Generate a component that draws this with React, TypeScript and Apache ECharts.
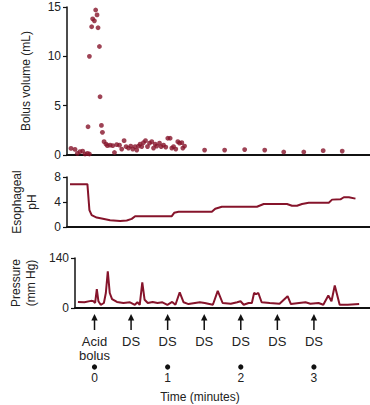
import React, { useEffect, useRef } from "react";
import * as echarts from "echarts";

// time in seconds (0 = acid bolus); minutes labelled below
const bolusTimes = [-12.8, -9.6, -7.7, -5.6, -3.5, -1.6, 0.3, 1.9, 0.8, 1.9, 3.7, 4.5, 5.9, 6.9, 8.0, 8.8, 9.9, 10.4, 11.5, 12.3, 13.6, 15.2, 16.3, 18.4, 20.5, 21.9, 23.7, 25.9, 27.7, 29.6, 31.2, 33.1, 34.9, 36.5, 38.4, 39.7, 41.1, 42.4, 43.7, 45.1, 46.7, 48.3, 49.9, 51.7, 53.1, 54.4, 55.7, 57.9, 59.2, 61.1, 62.9, 64.5, 66.4, 67.7, 69.1, 70.9, 72.5, 73.9, 75.7, 76.5, 77.9, 93.9, 109.9, 125.9, 141.9, 157.1, 173.1, 188.6, 203.8];
const bolusValues = [0.67, 0.57, 0.17, 0.34, 0.4, 0.1, 0.17, 0.1, 2.86, 10.0, 13.0, 13.8, 13.6, 14.7, 14.2, 12.9, 11.0, 5.9, 3.0, 2.3, 1.35, 1.1, 0.95, 1.0, 0.95, 0.25, 1.05, 1.0, 0.6, 1.45, 0.85, 0.7, 0.9, 0.6, 0.85, 0.5, 0.9, 1.1, 0.85, 1.25, 1.45, 0.85, 1.2, 1.35, 0.7, 1.1, 0.9, 1.2, 0.85, 1.0, 0.8, 1.7, 1.7, 0.7, 0.85, 0.6, 1.35, 1.2, 1.25, 0.7, 0.9, 0.5, 0.5, 0.55, 0.5, 0.3, 0.3, 0.44, 0.4];

const phTimes = [-13.6, 0.3, 1.9, 3.7, 7.7, 11.7, 18.4, 26.4, 31.7, 35.7, 38.4, 67.7, 69.6, 73.1, 99.7, 102.4, 107.7, 135.7, 141.1, 159.7, 163.7, 167.7, 171.7, 177.1, 193.1, 195.7, 202.4, 205.1, 209.1, 214.4];
const phValues = [6.86, 6.86, 2.7, 1.89, 1.51, 1.35, 1.08, 0.97, 1.05, 1.3, 1.73, 1.73, 2.27, 2.43, 2.43, 2.92, 3.24, 3.24, 3.68, 3.68, 3.4, 3.4, 3.68, 3.89, 3.89, 4.38, 4.43, 4.76, 4.76, 4.54];

const pressureTimes = [-13.6, -8.3, -2.9, -0.8, 0.5, 1.9, 3.2, 5.1, 7.7, 9.3, 10.9, 12.5, 14.4, 18.4, 23.7, 29.1, 33.1, 35.2, 37.1, 39.2, 41.1, 43.7, 47.7, 51.7, 55.7, 59.8, 63.7, 66.4, 69.9, 73.1, 77.1, 82.4, 86.4, 90.4, 97.1, 101.1, 105.1, 111.8, 117.1, 119.8, 122.4, 126.4, 129.1, 130.9, 132.6, 134.4, 137.1, 143.8, 151.8, 158.4, 161.1, 167.8, 173.1, 177.1, 183.8, 187.7, 191.8, 194.4, 197.1, 201.1, 207.7, 217.1];
const pressureValues = [17, 16, 20, 19, 14, 53, 19, 9, 14, 42, 103, 42, 25, 17, 14, 16, 9, 16, 9, 72, 23, 14, 17, 14, 16, 9, 17, 9, 44, 16, 11, 14, 16, 14, 9, 48, 14, 12, 16, 19, 9, 14, 14, 42, 39, 42, 16, 14, 12, 33, 11, 14, 16, 12, 14, 9, 35, 19, 63, 9, 9, 11];

const eventTimes = [0, 30, 60, 90, 120, 150, 180];
const eventLabels = ["Acid\nbolus", "DS", "DS", "DS", "DS", "DS", "DS"];
const minuteTicks = [0, 1, 2, 3];

const bolusTicks = [0, 5, 10, 15];
const phTicks = [0, 4, 8];
const pressureTicks = [0, 140];

const FONT = "'Liberation Sans', Arial, sans-serif";
const RED = "#86142b";
const X_MIN = -16;
const X_MAX = 226;

export default function App() {
  const ref = useRef<HTMLDivElement>(null);
  useEffect(() => {
    if (!ref.current) return;
    const chart = echarts.init(ref.current, undefined, { renderer: "svg" });

    const xAxisBase = (gridIndex: number) => ({
      type: "value" as const,
      gridIndex,
      min: X_MIN,
      max: X_MAX,
      axisLine: { show: true, onZero: false, lineStyle: { color: "#111", width: 2 } },
      axisTick: { show: false },
      axisLabel: { show: false },
      splitLine: { show: false },
    });
    const yAxisBase = (gridIndex: number, ticks: number[], name: string, nameGap: number) => ({
      type: "value" as const,
      gridIndex,
      min: ticks[0],
      max: ticks[ticks.length - 1],
      interval: ticks[1] - ticks[0],
      name,
      nameLocation: "middle" as const,
      nameRotate: 90,
      nameGap,
      nameTextStyle: { fontFamily: FONT, fontSize: 12, color: "#222", lineHeight: 15 },
      axisLine: { show: true, onZero: false, lineStyle: { color: "#111", width: 1.5 } },
      axisTick: { show: true, length: 4, lineStyle: { color: "#111", width: 1.2 } },
      axisLabel: { fontFamily: FONT, fontSize: 12, color: "#222", margin: 6 },
      splitLine: { show: false },
    });

    const lineStyle = { color: RED, width: 2 };

    chart.setOption({
      animation: false,
      backgroundColor: "#fff",
      grid: [
        { left: 67, right: 0, top: 7, height: 148 },
        { left: 67, right: 0, top: 177, height: 50 },
        { left: 67, right: 0, top: 258, height: 50 },
      ],
      xAxis: [xAxisBase(0), xAxisBase(1), xAxisBase(2)],
      yAxis: [
        yAxisBase(0, bolusTicks, "Bolus volume (mL)", 34),
        yAxisBase(1, phTicks, "Esophageal\npH", 28),
        yAxisBase(2, pressureTicks, "Pressure\n(mm Hg)", 37),
      ],
      graphic: [
        {
          type: "text",
          x: 200,
          y: 397,
          style: {
            text: "Time (minutes)",
            font: `12px ${FONT}`,
            fill: "#222",
            align: "center",
            verticalAlign: "middle",
          },
        },
      ],
      series: [
        {
          type: "scatter",
          xAxisIndex: 0,
          yAxisIndex: 0,
          symbol: "circle",
          symbolSize: 4.8,
          itemStyle: { color: RED },
          data: bolusTimes.map((t, i) => [t, bolusValues[i]]),
        },
        {
          type: "line",
          xAxisIndex: 1,
          yAxisIndex: 1,
          showSymbol: false,
          lineStyle,
          data: phTimes.map((t, i) => [t, phValues[i]]),
        },
        {
          type: "line",
          xAxisIndex: 2,
          yAxisIndex: 2,
          showSymbol: false,
          lineStyle,
          data: pressureTimes.map((t, i) => [t, pressureValues[i]]),
        },
        {
          type: "custom",
          xAxisIndex: 2,
          yAxisIndex: 2,
          clip: false,
          data: eventTimes.map((t, i) => [t, 0, i]),
          renderItem: (params: any, api: any) => {
            const p = api.coord([api.value(0), 0]);
            const x = p[0];
            const y0 = p[1];
            const idx = api.value(2);
            return {
              type: "group",
              children: [
                {
                  type: "line",
                  shape: { x1: x, y1: y0 + 10, x2: x, y2: y0 + 22 },
                  style: { stroke: "#111", lineWidth: 1.5 },
                },
                {
                  type: "polygon",
                  shape: { points: [[x, y0 + 6], [x - 3.2, y0 + 12.5], [x + 3.2, y0 + 12.5]] },
                  style: { fill: "#111" },
                },
                {
                  type: "text",
                  x,
                  y: y0 + 26,
                  style: {
                    text: eventLabels[idx],
                    font: `13px ${FONT}`,
                    fill: "#222",
                    align: "center",
                    verticalAlign: "top",
                    lineHeight: 14,
                  },
                },
              ],
            };
          },
        },
        {
          type: "custom",
          xAxisIndex: 2,
          yAxisIndex: 2,
          clip: false,
          data: minuteTicks.map((m) => [m * 60, 0, m]),
          renderItem: (params: any, api: any) => {
            const p = api.coord([api.value(0), 0]);
            const x = p[0];
            const y0 = p[1];
            return {
              type: "group",
              children: [
                {
                  type: "circle",
                  shape: { cx: x, cy: y0 + 59, r: 2.6 },
                  style: { fill: "#111" },
                },
                {
                  type: "text",
                  x,
                  y: y0 + 70,
                  style: {
                    text: String(api.value(2)),
                    font: `12px ${FONT}`,
                    fill: "#222",
                    align: "center",
                    verticalAlign: "middle",
                  },
                },
              ],
            };
          },
        },
      ],
    });
    return () => chart.dispose();
  }, []);
  return (
    <div
      ref={ref}
      style={{ position: "fixed", left: 0, top: 0, width: 370, height: 405, background: "#fff" }}
    />
  );
}
